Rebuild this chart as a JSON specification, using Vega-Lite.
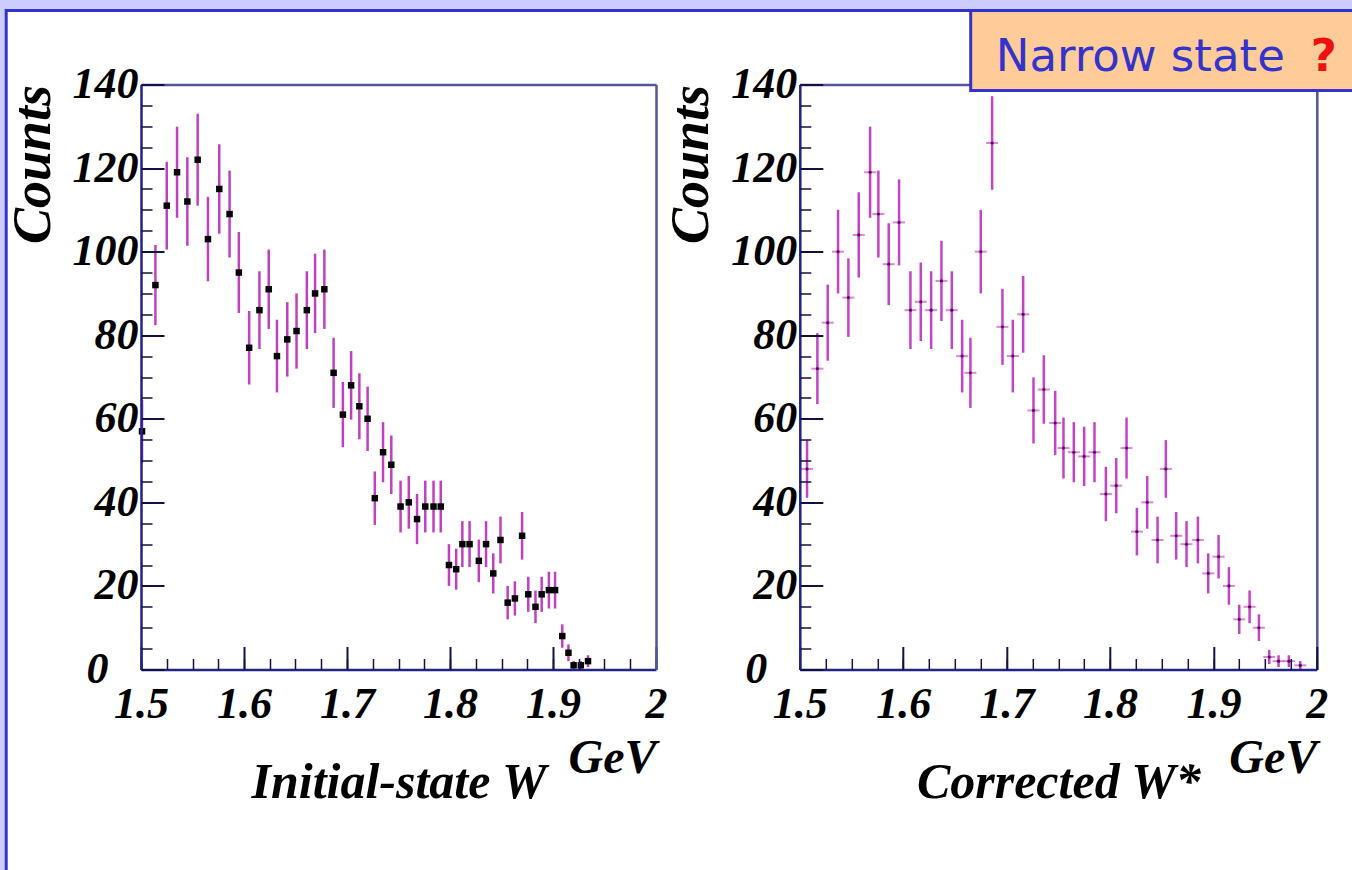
{
  "$schema": "https://vega.github.io/schema/vega-lite/v6.json",
  "background": "#ccccff",
  "padding": {"left": 4, "top": 8.5, "right": 0, "bottom": 0},
  "bounds": "flush",
  "spacing": 143.8,
  "datasets": {
    "initial": [
      {"w": 1.501, "n": 57, "lo": 49.5, "hi": 64.5},
      {"w": 1.514, "n": 92, "lo": 82.4, "hi": 101.6},
      {"w": 1.525, "n": 111, "lo": 100.5, "hi": 121.5},
      {"w": 1.535, "n": 119, "lo": 108.1, "hi": 129.9},
      {"w": 1.545, "n": 112, "lo": 101.4, "hi": 122.6},
      {"w": 1.555, "n": 122, "lo": 111.0, "hi": 133.0},
      {"w": 1.565, "n": 103, "lo": 92.9, "hi": 113.1},
      {"w": 1.576, "n": 115, "lo": 104.3, "hi": 125.7},
      {"w": 1.586, "n": 109, "lo": 98.6, "hi": 119.4},
      {"w": 1.595, "n": 95, "lo": 85.3, "hi": 104.7},
      {"w": 1.605, "n": 77, "lo": 68.2, "hi": 85.8},
      {"w": 1.615, "n": 86, "lo": 76.7, "hi": 95.3},
      {"w": 1.624, "n": 91, "lo": 81.5, "hi": 100.5},
      {"w": 1.632, "n": 75, "lo": 66.3, "hi": 83.7},
      {"w": 1.642, "n": 79, "lo": 70.1, "hi": 87.9},
      {"w": 1.651, "n": 81, "lo": 72.0, "hi": 90.0},
      {"w": 1.661, "n": 86, "lo": 76.7, "hi": 95.3},
      {"w": 1.669, "n": 90, "lo": 80.5, "hi": 99.5},
      {"w": 1.678, "n": 91, "lo": 81.5, "hi": 100.5},
      {"w": 1.687, "n": 71, "lo": 62.6, "hi": 79.4},
      {"w": 1.696, "n": 61, "lo": 53.2, "hi": 68.8},
      {"w": 1.704, "n": 68, "lo": 59.8, "hi": 76.2},
      {"w": 1.712, "n": 63, "lo": 55.1, "hi": 70.9},
      {"w": 1.720, "n": 60, "lo": 52.3, "hi": 67.7},
      {"w": 1.727, "n": 41, "lo": 34.6, "hi": 47.4},
      {"w": 1.735, "n": 52, "lo": 44.8, "hi": 59.2},
      {"w": 1.743, "n": 49, "lo": 42.0, "hi": 56.0},
      {"w": 1.752, "n": 39, "lo": 32.8, "hi": 45.2},
      {"w": 1.760, "n": 40, "lo": 33.7, "hi": 46.3},
      {"w": 1.768, "n": 36, "lo": 30.0, "hi": 42.0},
      {"w": 1.776, "n": 39, "lo": 32.8, "hi": 45.2},
      {"w": 1.784, "n": 39, "lo": 32.8, "hi": 45.2},
      {"w": 1.791, "n": 39, "lo": 32.8, "hi": 45.2},
      {"w": 1.799, "n": 25, "lo": 20.0, "hi": 30.0},
      {"w": 1.806, "n": 24, "lo": 19.1, "hi": 28.9},
      {"w": 1.812, "n": 30, "lo": 24.5, "hi": 35.5},
      {"w": 1.819, "n": 30, "lo": 24.5, "hi": 35.5},
      {"w": 1.828, "n": 26, "lo": 20.9, "hi": 31.1},
      {"w": 1.835, "n": 30, "lo": 24.5, "hi": 35.5},
      {"w": 1.842, "n": 23, "lo": 18.2, "hi": 27.8},
      {"w": 1.849, "n": 31, "lo": 25.4, "hi": 36.6},
      {"w": 1.856, "n": 16, "lo": 12.0, "hi": 20.0},
      {"w": 1.863, "n": 17, "lo": 12.9, "hi": 21.1},
      {"w": 1.870, "n": 32, "lo": 26.3, "hi": 37.7},
      {"w": 1.876, "n": 18, "lo": 13.8, "hi": 22.2},
      {"w": 1.883, "n": 15, "lo": 11.1, "hi": 18.9},
      {"w": 1.889, "n": 18, "lo": 13.8, "hi": 22.2},
      {"w": 1.896, "n": 19, "lo": 14.6, "hi": 23.4},
      {"w": 1.902, "n": 19, "lo": 14.6, "hi": 23.4},
      {"w": 1.909, "n": 8, "lo": 5.2, "hi": 10.8},
      {"w": 1.915, "n": 4, "lo": 2.0, "hi": 6.0},
      {"w": 1.920, "n": 1, "lo": 0.0, "hi": 2.0},
      {"w": 1.927, "n": 1, "lo": 0.0, "hi": 2.0},
      {"w": 1.934, "n": 2, "lo": 0.6, "hi": 3.4}
    ],
    "corrected": [
      {"w": 1.507, "n": 48, "lo": 41.1, "hi": 54.9},
      {"w": 1.517, "n": 72, "lo": 63.5, "hi": 80.5},
      {"w": 1.527, "n": 83, "lo": 73.9, "hi": 92.1},
      {"w": 1.537, "n": 100, "lo": 90.0, "hi": 110.0},
      {"w": 1.547, "n": 89, "lo": 79.6, "hi": 98.4},
      {"w": 1.557, "n": 104, "lo": 93.8, "hi": 114.2},
      {"w": 1.568, "n": 119, "lo": 108.1, "hi": 129.9},
      {"w": 1.576, "n": 109, "lo": 98.6, "hi": 119.4},
      {"w": 1.586, "n": 97, "lo": 87.2, "hi": 106.8},
      {"w": 1.596, "n": 107, "lo": 96.7, "hi": 117.3},
      {"w": 1.607, "n": 86, "lo": 76.7, "hi": 95.3},
      {"w": 1.617, "n": 88, "lo": 78.6, "hi": 97.4},
      {"w": 1.627, "n": 86, "lo": 76.7, "hi": 95.3},
      {"w": 1.637, "n": 93, "lo": 83.4, "hi": 102.6},
      {"w": 1.647, "n": 86, "lo": 76.7, "hi": 95.3},
      {"w": 1.657, "n": 75, "lo": 66.3, "hi": 83.7},
      {"w": 1.665, "n": 71, "lo": 62.6, "hi": 79.4},
      {"w": 1.675, "n": 100, "lo": 90.0, "hi": 110.0},
      {"w": 1.686, "n": 126, "lo": 114.8, "hi": 137.2},
      {"w": 1.696, "n": 82, "lo": 72.9, "hi": 91.1},
      {"w": 1.706, "n": 75, "lo": 66.3, "hi": 83.7},
      {"w": 1.716, "n": 85, "lo": 75.8, "hi": 94.2},
      {"w": 1.726, "n": 62, "lo": 54.1, "hi": 69.9},
      {"w": 1.736, "n": 67, "lo": 58.8, "hi": 75.2},
      {"w": 1.747, "n": 59, "lo": 51.3, "hi": 66.7},
      {"w": 1.755, "n": 53, "lo": 45.7, "hi": 60.3},
      {"w": 1.765, "n": 52, "lo": 44.8, "hi": 59.2},
      {"w": 1.775, "n": 51, "lo": 43.9, "hi": 58.1},
      {"w": 1.785, "n": 52, "lo": 44.8, "hi": 59.2},
      {"w": 1.796, "n": 42, "lo": 35.5, "hi": 48.5},
      {"w": 1.806, "n": 44, "lo": 37.4, "hi": 50.6},
      {"w": 1.816, "n": 53, "lo": 45.7, "hi": 60.3},
      {"w": 1.826, "n": 33, "lo": 27.3, "hi": 38.7},
      {"w": 1.836, "n": 40, "lo": 33.7, "hi": 46.3},
      {"w": 1.846, "n": 31, "lo": 25.4, "hi": 36.6},
      {"w": 1.854, "n": 48, "lo": 41.1, "hi": 54.9},
      {"w": 1.864, "n": 32, "lo": 26.3, "hi": 37.7},
      {"w": 1.874, "n": 30, "lo": 24.5, "hi": 35.5},
      {"w": 1.885, "n": 31, "lo": 25.4, "hi": 36.6},
      {"w": 1.895, "n": 23, "lo": 18.2, "hi": 27.8},
      {"w": 1.905, "n": 27, "lo": 21.8, "hi": 32.2},
      {"w": 1.915, "n": 20, "lo": 15.5, "hi": 24.5},
      {"w": 1.925, "n": 12, "lo": 8.5, "hi": 15.5},
      {"w": 1.935, "n": 15, "lo": 11.1, "hi": 18.9},
      {"w": 1.944, "n": 10, "lo": 6.8, "hi": 13.2},
      {"w": 1.954, "n": 3, "lo": 1.3, "hi": 4.7},
      {"w": 1.963, "n": 2, "lo": 0.6, "hi": 3.4},
      {"w": 1.973, "n": 2, "lo": 0.6, "hi": 3.4},
      {"w": 1.984, "n": 1, "lo": 0.0, "hi": 2.0}
    ]
  },
  "config": {
    "view": {"stroke": null, "fill": "white"},
    "axis": {
      "grid": false,
      "labelFont": "Liberation Serif",
      "labelFontStyle": "italic",
      "labelFontWeight": "bold",
      "labelFontSize": 44,
      "labelColor": "black",
      "labelFlush": false,
      "labelOverlap": false,
      "titleFont": "Liberation Serif",
      "titleFontStyle": "italic",
      "titleFontWeight": "bold",
      "titleColor": "black",
      "domainColor": "#22228a",
      "domainWidth": 2.5,
      "tickColor": "#111144",
      "tickWidth": 2
    }
  },
  "hconcat": [
    {
      "width": 515,
      "height": 585,
      "data": {"name": "initial"},
      "resolve": {"axis": {"x": "independent", "y": "independent"}},
      "layer": [
        {
          "data": {"values": [{}]},
          "mark": {"type": "rect", "fill": "white", "stroke": "#3333cc", "strokeWidth": 3},
          "encoding": {
            "x": {"datum": 1.36913, "type": "quantitative", "scale": {"domain": [1.5, 2], "nice": false, "zero": false},
                  "axis": {"orient": "top", "ticks": false, "labels": false, "title": null, "zindex": 1, "domainColor": "#55559a"}},
            "x2": {"datum": 2.68417},
            "y": {"datum": 157.71, "type": "quantitative", "scale": {"domain": [0, 140], "nice": false},
                  "axis": {"orient": "right", "ticks": false, "labels": false, "title": null, "zindex": 1, "domainColor": "#55559a"}},
            "y2": {"datum": -49.3}
          }
        },
        {
          "mark": {"type": "rule", "color": "#c040c0", "strokeWidth": 2.5},
          "encoding": {
            "x": {"field": "w", "type": "quantitative", "scale": {"domain": [1.5, 2], "nice": false, "zero": false},
                  "axis": {"orient": "bottom", "zindex": 1, "values": [1.5, 1.6, 1.7, 1.8, 1.9, 2.0], "format": "~g", "tickSize": -23,
                           "labelPadding": 36, "title": "GeV", "titleFontSize": 48, "titleAnchor": "end", "titleAlign": "right", "titlePadding": 8}},
            "y": {"field": "lo", "type": "quantitative", "scale": {"domain": [0, 140], "nice": false},
                  "axis": {"orient": "left", "zindex": 1, "values": [0, 20, 40, 60, 80, 100, 120, 140], "format": "d", "tickSize": -23,
                           "labelPadding": {"condition": {"test": "datum.value == 0", "value": 56}, "value": 26},
                           "title": "Counts", "titleFontSize": 54, "titleAnchor": "end", "titlePadding": 12}},
            "y2": {"field": "hi"}
          }
        },
        {
          "mark": {"type": "point", "shape": "square", "filled": true, "color": "black", "size": 42, "opacity": 1},
          "encoding": {
            "x": {"field": "w", "type": "quantitative", "scale": {"domain": [1.5, 2], "nice": false, "zero": false},
                  "axis": {"orient": "bottom", "zindex": 1, "values": [1.5, 1.525, 1.55, 1.575, 1.6, 1.625, 1.65, 1.675, 1.7, 1.725, 1.75, 1.775, 1.8, 1.825, 1.85, 1.875, 1.9, 1.925, 1.95, 1.975, 2.0],
                           "tickSize": -11, "tickWidth": 1.5, "labels": false, "domain": false,
                           "title": "Initial-state W", "titleFontSize": 50, "titlePadding": 87}},
            "y": {"field": "n", "type": "quantitative", "scale": {"domain": [0, 140], "nice": false},
                  "axis": {"orient": "left", "zindex": 1, "values": [0, 5, 10, 15, 20, 25, 30, 35, 40, 45, 50, 55, 60, 65, 70, 75, 80, 85, 90, 95, 100, 105, 110, 115, 120, 125, 130, 135, 140],
                           "tickSize": -11, "tickWidth": 1.5, "labels": false, "domain": false, "title": null}}
          }
        }
      ]
    },
    {
      "width": 517,
      "height": 585,
      "data": {"name": "corrected"},
      "resolve": {"axis": {"x": "independent", "y": "independent"}},
      "layer": [
        {
          "data": {"values": [{}]},
          "mark": {"type": "rect", "fill": "#ffcc99", "stroke": "#3333cc", "strokeWidth": 3},
          "encoding": {
            "x": {"datum": 1.66528, "type": "quantitative", "scale": {"domain": [1.5, 2], "nice": false, "zero": false},
                  "axis": {"orient": "top", "ticks": false, "labels": false, "title": null, "zindex": 0, "domainColor": "#55559a"}},
            "x2": {"datum": 2.04},
            "y": {"datum": 157.71, "type": "quantitative", "scale": {"domain": [0, 140], "nice": false},
                  "axis": {"orient": "right", "ticks": false, "labels": false, "title": null, "zindex": 0, "domainColor": "#55559a"}},
            "y2": {"datum": 138.56}
          }
        },
        {
          "mark": {"type": "rule", "color": "#c444c8", "strokeWidth": 2.5},
          "encoding": {
            "x": {"field": "w", "type": "quantitative", "scale": {"domain": [1.5, 2], "nice": false, "zero": false},
                  "axis": {"orient": "bottom", "zindex": 1, "values": [1.5, 1.6, 1.7, 1.8, 1.9, 2.0], "format": "~g", "tickSize": -23,
                           "labelPadding": 36, "title": "GeV", "titleFontSize": 48, "titleAnchor": "end", "titleAlign": "right", "titlePadding": 8}},
            "y": {"field": "lo", "type": "quantitative", "scale": {"domain": [0, 140], "nice": false},
                  "axis": {"orient": "left", "zindex": 1, "values": [0, 20, 40, 60, 80, 100, 120, 140], "format": "d", "tickSize": -23,
                           "labelPadding": {"condition": {"test": "datum.value == 0", "value": 56}, "value": 26},
                           "title": "Counts", "titleFontSize": 54, "titleAnchor": "end", "titlePadding": 12}},
            "y2": {"field": "hi"}
          }
        },
        {
          "mark": {"type": "tick", "orient": "horizontal", "color": "#d848d8", "thickness": 2, "size": 12},
          "encoding": {
            "x": {"field": "w", "type": "quantitative", "scale": {"domain": [1.5, 2], "nice": false, "zero": false},
                  "axis": {"orient": "bottom", "zindex": 1, "values": [1.5, 1.525, 1.55, 1.575, 1.6, 1.625, 1.65, 1.675, 1.7, 1.725, 1.75, 1.775, 1.8, 1.825, 1.85, 1.875, 1.9, 1.925, 1.95, 1.975, 2.0],
                           "tickSize": -11, "tickWidth": 1.5, "labels": false, "domain": false,
                           "title": "Corrected W*", "titleFontSize": 50, "titlePadding": 87}},
            "y": {"field": "n", "type": "quantitative", "scale": {"domain": [0, 140], "nice": false},
                  "axis": {"orient": "left", "zindex": 1, "values": [0, 5, 10, 15, 20, 25, 30, 35, 40, 45, 50, 55, 60, 65, 70, 75, 80, 85, 90, 95, 100, 105, 110, 115, 120, 125, 130, 135, 140],
                           "tickSize": -11, "tickWidth": 1.5, "labels": false, "domain": false, "title": null}}
          }
        },
        {
          "mark": {"type": "circle", "color": "#501050", "size": 10, "opacity": 1},
          "encoding": {
            "x": {"field": "w", "type": "quantitative", "scale": {"domain": [1.5, 2], "nice": false, "zero": false}, "axis": null},
            "y": {"field": "n", "type": "quantitative", "scale": {"domain": [0, 140], "nice": false}, "axis": null}
          }
        },
        {
          "data": {"values": [{}]},
          "mark": {"type": "text", "text": "Narrow state", "font": "DejaVu Sans", "fontSize": 45, "color": "#3333cc", "align": "left", "baseline": "alphabetic"},
          "encoding": {
            "x": {"datum": 1.6895, "type": "quantitative", "scale": {"domain": [1.5, 2], "nice": false, "zero": false}, "axis": null},
            "y": {"datum": 143.35, "type": "quantitative", "scale": {"domain": [0, 140], "nice": false}, "axis": null}
          }
        },
        {
          "data": {"values": [{}]},
          "mark": {"type": "text", "text": "?", "font": "DejaVu Sans", "fontSize": 45, "fontWeight": "bold", "color": "#ee1111", "align": "left", "baseline": "alphabetic"},
          "encoding": {
            "x": {"datum": 1.9941, "type": "quantitative", "scale": {"domain": [1.5, 2], "nice": false, "zero": false}, "axis": null},
            "y": {"datum": 143.35, "type": "quantitative", "scale": {"domain": [0, 140], "nice": false}, "axis": null}
          }
        }
      ]
    }
  ]
}
